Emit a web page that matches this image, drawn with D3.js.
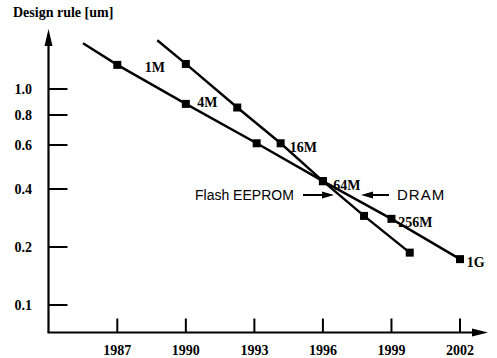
<!DOCTYPE html>
<html>
<head>
<meta charset="utf-8">
<script src="https://cdn.jsdelivr.net/npm/d3@7"></script>
<style>
  body { margin: 0; background: #fff; }
  svg { display: block; }
  .lbl { font-family: "Liberation Serif", "Times New Roman", serif; font-weight: bold; font-size: 14px; fill: #000; }
  .name { font-family: "Liberation Sans", Arial, sans-serif; font-size: 14px; fill: #000; }
</style>
</head>
<body>
<svg id="chart" width="497" height="358"></svg>
<script>
// DRAM generations (shallow line)
const dramYears   = [1987, 1990, 1993.1, 1996, 1999, 2002];
const dramValues  = [1.23, 0.88, 0.61, 0.43, 0.28, 0.173];
const dramStart   = [1985.5, 1.48];

// Flash EEPROM (steep line)
const flashYears  = [1990, 1992.25, 1994.15, 1996, 1997.8, 1999.8];
const flashValues = [1.24, 0.853, 0.61, 0.43, 0.29, 0.187];
const flashStart  = [1988.75, 1.52];

const xTicks = [1987, 1990, 1993, 1996, 1999, 2002];
const yTicks = [0.1, 0.2, 0.4, 0.6, 0.8, 1.0];
const yTickLabels = ['0.1', '0.2', '0.4', '0.6', '0.8', '1.0'];

// generation labels: text, year, value
const genLabels = [
    ['1M', 1988.2, 1.21],
    ['4M', 1990.5, 0.895],
    ['16M', 1994.55, 0.59],
    ['64M', 1996.45, 0.415],
    ['256M', 1999.3, 0.27],
    ['1G', 2002.3, 0.168]
];

const svg = d3.select('#chart');

const x = d3.scaleLinear().domain([1987, 2002]).range([117.3, 460]);
// the printed axis is not a clean log scale, so map each tick to where it sits
const y = d3.scaleLog().domain(yTicks).range([305, 247, 189, 145, 115, 89]);

const AXIS_X = 48.5;
const AXIS_Y = 332.5;

// axes
svg.append('line')
    .attr('x1', AXIS_X).attr('y1', AXIS_Y)
    .attr('x2', AXIS_X).attr('y2', 40)
    .attr('stroke', '#000').attr('stroke-width', 2.2);
svg.append('path')
    .attr('d', `M${AXIS_X},29 L${AXIS_X - 4},46 L${AXIS_X + 4},46 Z`)
    .attr('fill', '#000');

svg.append('line')
    .attr('x1', AXIS_X - 1).attr('y1', AXIS_Y)
    .attr('x2', 478).attr('y2', AXIS_Y)
    .attr('stroke', '#000').attr('stroke-width', 2.2);
svg.append('path')
    .attr('d', `M488,${AXIS_Y} L472,${AXIS_Y - 4} L472,${AXIS_Y + 4} Z`)
    .attr('fill', '#000');

// y ticks
svg.selectAll('.ytick')
    .data(yTicks)
    .join('line')
    .attr('x1', AXIS_X).attr('x2', AXIS_X + 19)
    .attr('y1', d => y(d)).attr('y2', d => y(d))
    .attr('stroke', '#000').attr('stroke-width', 2);

svg.selectAll('.ylab')
    .data(yTicks)
    .join('text')
    .attr('class', 'lbl')
    .attr('x', 32)
    .attr('y', d => y(d) + 5)
    .attr('text-anchor', 'end')
    .text((d, i) => yTickLabels[i]);

// x ticks
svg.selectAll('.xtick')
    .data(xTicks)
    .join('line')
    .attr('x1', d => x(d)).attr('x2', d => x(d))
    .attr('y1', AXIS_Y).attr('y2', AXIS_Y - 14)
    .attr('stroke', '#000').attr('stroke-width', 2);

svg.selectAll('.xlab')
    .data(xTicks)
    .join('text')
    .attr('class', 'lbl')
    .attr('x', d => x(d))
    .attr('y', 355)
    .attr('text-anchor', 'middle')
    .text(d => d);

// title
svg.append('text')
    .attr('class', 'lbl')
    .attr('x', 13).attr('y', 17)
    .text('Design rule [um]');

// trend lines
const line = d3.line().x(d => x(d[0])).y(d => y(d[1]));

const dramPts  = [dramStart].concat(dramYears.map((yr, i) => [yr, dramValues[i]]));
const flashPts = [flashStart].concat(flashYears.map((yr, i) => [yr, flashValues[i]]));

[dramPts, flashPts].forEach(pts => {
    svg.append('path')
        .attr('d', line(pts))
        .attr('fill', 'none')
        .attr('stroke', '#000')
        .attr('stroke-width', 2.4);

    svg.selectAll(null)
        .data(pts.slice(1))
        .join('rect')
        .attr('x', d => x(d[0]) - 4)
        .attr('y', d => y(d[1]) - 4)
        .attr('width', 8).attr('height', 8)
        .attr('fill', '#000');
});

// generation labels
svg.selectAll('.gen')
    .data(genLabels)
    .join('text')
    .attr('class', 'lbl')
    .attr('x', d => x(d[1]))
    .attr('y', d => y(d[2]) + 5)
    .text(d => d[0]);

// Flash EEPROM / DRAM call-outs
const ARROW_Y = 195;
svg.append('text')
    .attr('class', 'name')
    .attr('x', 195).attr('y', 200)
    .text('Flash EEPROM');
svg.append('line')
    .attr('x1', 303).attr('x2', 324)
    .attr('y1', ARROW_Y).attr('y2', ARROW_Y)
    .attr('stroke', '#000').attr('stroke-width', 2);
svg.append('path')
    .attr('d', `M334,${ARROW_Y} L322,${ARROW_Y - 3.5} L322,${ARROW_Y + 3.5} Z`)
    .attr('fill', '#000');

svg.append('text')
    .attr('class', 'name')
    .attr('x', 397).attr('y', 200)
    .style('font-size', '15px')
    .style('letter-spacing', '1px')
    .text('DRAM');
svg.append('line')
    .attr('x1', 389).attr('x2', 370)
    .attr('y1', ARROW_Y).attr('y2', ARROW_Y)
    .attr('stroke', '#000').attr('stroke-width', 2);
svg.append('path')
    .attr('d', `M361,${ARROW_Y} L373,${ARROW_Y - 3.5} L373,${ARROW_Y + 3.5} Z`)
    .attr('fill', '#000');
</script>
</body>
</html>
